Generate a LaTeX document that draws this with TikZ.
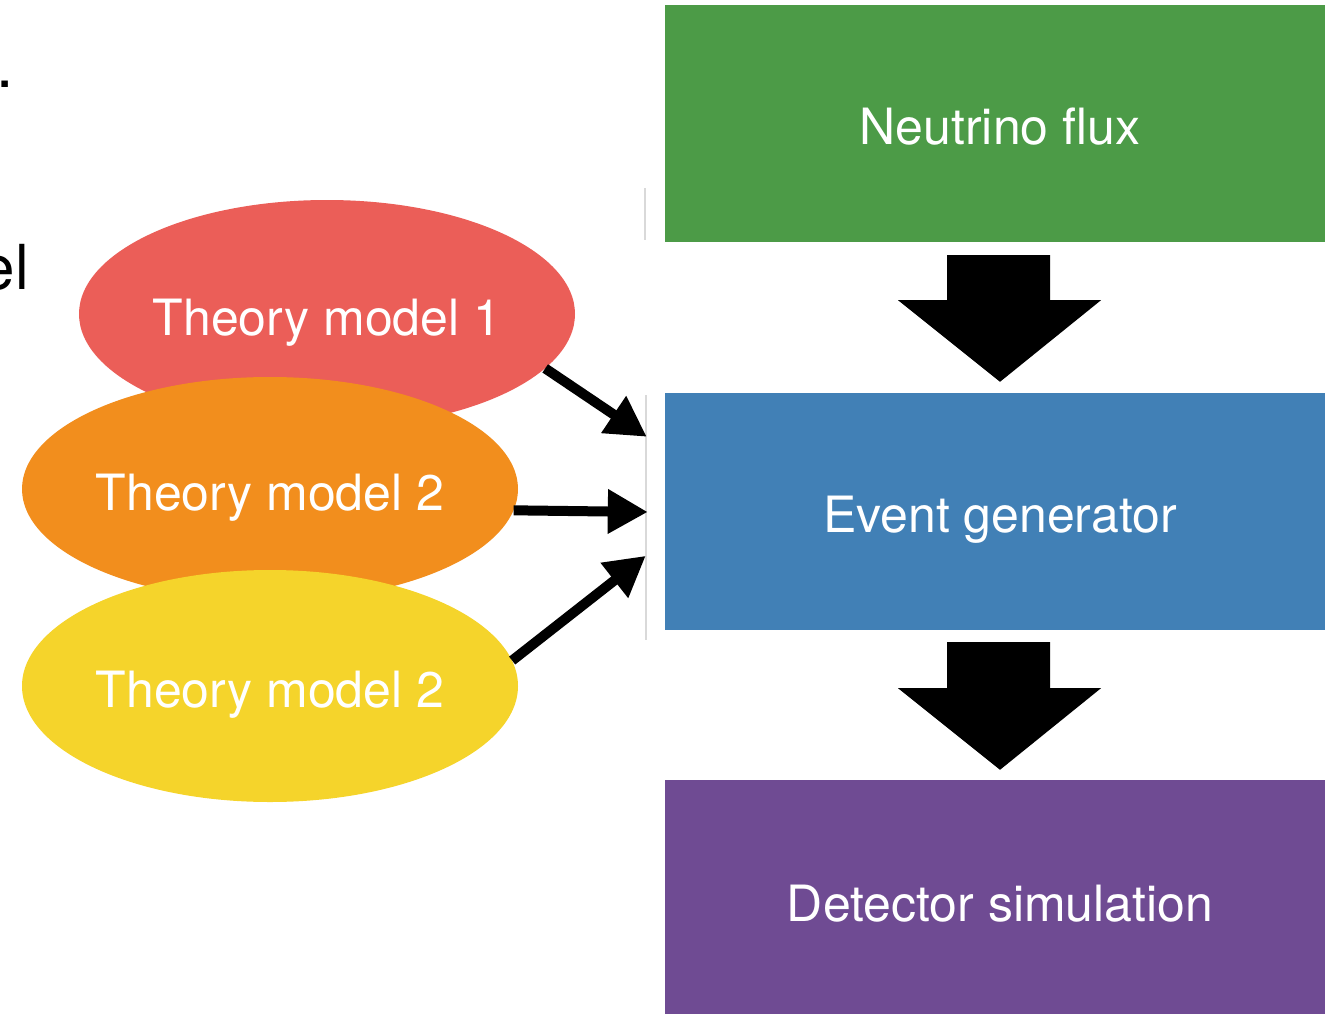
\documentclass[tikz,border=0pt]{standalone}
\usepackage{fontspec}
\setmainfont{TeX Gyre Heros}
\usetikzlibrary{shapes.geometric,arrows.meta,calc}
\definecolor{cgreen}{HTML}{4C9B47}
\definecolor{cblue}{HTML}{4180B6}
\definecolor{cpurple}{HTML}{6F4B93}
\definecolor{cred}{HTML}{EB5E58}
\definecolor{corange}{HTML}{F28E1D}
\definecolor{cyellow}{HTML}{F5D42B}
\tikzset{
  stagebox/.style={rectangle, inner sep=0pt, minimum width=670pt, minimum height=237pt,
    text=white, font=\fontsize{50}{58}\selectfont, text height=42pt, text depth=0pt},
  theory/.style={ellipse, inner sep=0pt, minimum width=496pt, minimum height=228pt,
    text=white, font=\fontsize{50}{58}\selectfont, text height=42pt, text depth=0pt},
  feed/.style={line width=10pt, -{Triangle[length=40pt,width=42pt]}},
  blockarrow/.style={fill=black},
  slidetext/.style={inner sep=0pt, font=\fontsize{62}{70}\selectfont, text=black}
}
\begin{document}
\begin{tikzpicture}[x=1pt,y=-1pt]
\useasboundingbox (0,0) rectangle (1325,1014);
\begin{scope}
\clip (0,0) rectangle (1325,1014);
% cropped slide text fragments
\node[slidetext, anchor=base east] (frag1) at (14,88) {y.};
\node[slidetext, anchor=base east] (frag2) at (29,289) {el};
% faint edges
\draw[gray!30, line width=2.5pt] (645,188) -- (645,240);
\draw[gray!30, line width=2.5pt] (646,395) -- (646,640);
% pipeline boxes
\node[stagebox, fill=cgreen] (flux) at (1000,123.5) {Neutrino flux};
\node[stagebox, fill=cblue] (gen) at (1000,511.5) {Event generator};
\node[stagebox, fill=cpurple, minimum height=240pt] (det) at (1000,900) {Detector simulation};
% block arrows
\fill[blockarrow] ($(flux.south)+(-53,13)$) -- ($(flux.south)+(50,13)$) -- ($(flux.south)+(50,58)$)
  -- ($(flux.south)+(101,58)$) -- ($(gen.north)+(0,-11)$) -- ($(flux.south)+(-102,58)$)
  -- ($(flux.south)+(-53,58)$) -- cycle;
\fill[blockarrow] ($(gen.south)+(-53,12)$) -- ($(gen.south)+(50,12)$) -- ($(gen.south)+(50,58)$)
  -- ($(gen.south)+(101,58)$) -- ($(det.north)+(0,-10)$) -- ($(gen.south)+(-102,58)$)
  -- ($(gen.south)+(-53,58)$) -- cycle;
% theory models
\node[theory, fill=cred] (t1) at (327,314) {Theory model 1};
\node[theory, fill=corange, minimum height=224pt] (t2) at (270,489) {Theory model 2};
\node[theory, fill=cyellow, minimum height=232pt] (t3) at (270,686) {Theory model 2};
% feeding arrows
\draw[feed] (t1.-14.5) -- ($(gen.north west)+(-18,44)$);
\draw[feed] (t2.-5.6) -- ($(gen.west)+(-17,0.5)$);
\draw[feed] (t3.6.9) -- ($(gen.north west)+(-19,163)$);
\end{scope}
\end{tikzpicture}
\end{document}
